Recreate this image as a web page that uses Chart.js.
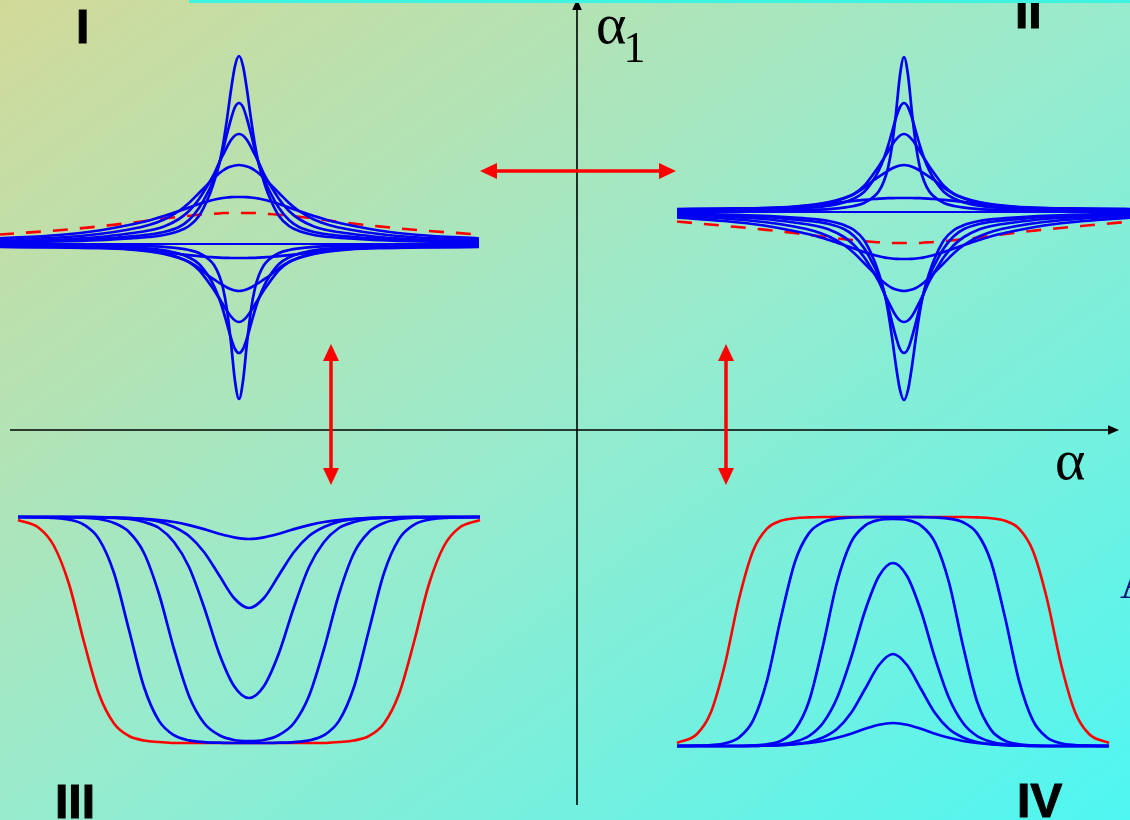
<!DOCTYPE html>
<html>
<head>
<meta charset="utf-8">
<title>Soliton profiles in the four quadrants</title>
<script src="https://cdn.jsdelivr.net/npm/chart.js@4.4.1/dist/chart.umd.min.js"></script>
<style>
  html, body { margin: 0; padding: 0; }
  #wrap {
    position: relative;
    width: 1130px;
    height: 820px;
    overflow: hidden;
    background: linear-gradient(to bottom right, #d2d998 0%, #98ebcd 50%, #4ef6f2 100%);
  }
  #wrap canvas { position: absolute; left: 0; top: 0; }
  #labels { position: absolute; left: 0; top: 0; }
  #topbar { position: absolute; left: 189px; top: 0; width: 941px; height: 3px; background: #3ff3e1; }
</style>
</head>
<body>
<div id="wrap">
  <canvas id="chart"></canvas>
  <svg id="labels" width="1130" height="820">
    <g font-family="'Liberation Sans', Arial, sans-serif" font-weight="bold" font-size="48" fill="#000" stroke="#000" stroke-width="1">
      <text x="76" y="43">I</text>
      <text x="1015" y="28">II</text>
      <text x="55" y="818">III</text>
      <text x="1017" y="817">IV</text>
    </g>
    <g font-family="'Liberation Serif', 'Times New Roman', serif" fill="#000">
      <text x="596" y="43" font-size="58">α<tspan font-size="44" dx="-3" dy="19">1</tspan></text>
      <text x="1055" y="479" font-size="58">α</text>
    </g>
    <text x="1120" y="598" font-family="'Liberation Serif', serif" font-size="44" fill="#14147a">A</text>
  </svg>
  <div id="topbar"></div>
</div>
<script>
// half profiles, sampled outward from each panel centre (α units)
const offsetsTop = [0, 4, 8, 12, 16, 20, 25, 30, 40, 50, 60, 75, 90, 110, 140, 180, 240];
const offsetsTopII = [0, 4, 8, 12, 16, 20, 25, 30, 40, 50, 60, 75, 90, 110, 140, 180, 227];
const offsetsWell = [0, 15, 30, 45, 60, 75, 90, 105, 120, 135, 150, 165, 180, 195, 210, 231];
const offsetsBump = [0, 14, 28, 42, 56, 70, 84, 98, 112, 126, 140, 154, 168, 182, 196, 216];
const flatOffsets = [0, 240];
const flatOffsetsII = [0, 227];
const flatLine = [0, 0];

// quadrant I (quadrant II shows the same family turned over)
const up1 = [188, 178, 154, 125, 99, 79, 62, 48, 28, 18, 13, 9, 7, 5.5, 3.8, 2.5, 1.5];
const up2 = [141, 137, 125, 110, 94, 80, 65, 54, 36, 24, 17, 12, 9.5, 7.5, 5, 3.3, 2];
const up3 = [110, 108.5, 104, 97, 89, 81, 70, 61, 45, 33, 25, 17.5, 13.5, 10.5, 7, 4.5, 2.8];
const up4 = [79, 78.5, 77.5, 76, 73.5, 70.5, 66, 61, 51, 41, 33, 24.5, 19, 14.5, 10, 6.5, 4];
const up5 = [47, 47, 46.8, 46.5, 46, 45.3, 44.3, 43, 40, 36.5, 33, 28, 23.5, 19, 13.5, 9, 5.5];
const low1 = [-14, -14, -14, -13.9, -13.8, -13.6, -13.3, -13, -12.2, -11.2, -10, -8.2, -6.5, -5, -4, -3.5, -3];
const low2 = [-47, -46.5, -45.3, -43.5, -41.2, -38.7, -35.3, -32, -24, -18, -14, -10, -7.5, -5.5, -4, -3.2, -2.6];
const low3 = [-78, -76.5, -72.5, -67, -60.5, -54, -46, -39, -26, -18, -13.5, -9.2, -6.8, -5, -3.5, -2.7, -2.2];
const low4 = [-109, -105, -94, -80, -66, -54, -42, -33, -20, -13.5, -9.6, -6.3, -4.5, -3.5, -2.6, -2, -1.7];
const low5 = [-155, -137, -99, -66, -44, -31, -21, -15.5, -9, -6, -4.3, -2.9, -2.2, -1.8, -1.4, -1.2, -1];
const redBump = [31, 31, 31, 31, 31, 30.5, 30.3, 30, 29.2, 28.2, 27.2, 25.4, 23.5, 21, 17.6, 13.8, 9.5];

// quadrant III: wells below the top level
const well1 = [-22, -20.4, -16.7, -12.1, -8.1, -5, -3.1, -1.8, -1.1, -0.6, -0.3, 0, 0, 0, 0, 0];
const well2 = [-91, -81, -58, -35, -19, -10, -4.7, -2.2, -1, -0.5, -0.2, 0, 0, 0, 0, 0];
const well3 = [-181, -169, -136, -90, -50, -25, -11, -5, -2, -1, -0.4, 0, 0, 0, 0, 0];
const well4 = [-224, -223, -218, -206, -179, -132, -77, -36, -15, -6, -2, -0.7, -0.3, 0, 0, 0];
const well5 = [-226, -226, -225.7, -225.1, -223.4, -218.2, -203.9, -170, -113, -56, -22.1, -7.8, -2.6, -0.9, -0.3, 0];
const redWell = [-226, -226, -226, -226, -226, -226, -225, -223.5, -219, -206.5, -177, -125, -67, -29, -11, -3];

// quadrant IV: bumps above the bottom level
const bump1 = [23, 21.3, 17.2, 12.3, 8.2, 5, 3, 1.8, 1, 0.5, 0, 0, 0, 0, 0, 0];
const bump2 = [92, 81, 57, 33, 17, 8.5, 4, 1.9, 0.9, 0.4, 0, 0, 0, 0, 0, 0];
const bump3 = [183, 170, 135, 88, 48, 23, 10, 4.3, 1.6, 0.7, 0.3, 0, 0, 0, 0, 0];
const bump4 = [227, 226, 220.4, 203.6, 163.5, 100.3, 44.7, 16.1, 5.3, 1.7, 0.5, 0, 0, 0, 0, 0];
const bump5 = [229, 229, 228.8, 228.5, 227.4, 223.7, 212.9, 184.3, 128.7, 65.4, 25.3, 8.5, 2.7, 0.9, 0.3, 0];
const redPlateau = [229, 229, 229, 229, 229, 229, 228.6, 227.8, 225.2, 217.3, 195, 147, 82, 34, 12, 3];

// where each small diagram sits in the (α, α1) plane
const panelI = { centre: -338, level: 186, sign: 1 };
const panelII = { centre: 327, level: 218, sign: -1 };
const panelIII = { centre: -328, level: -87, sign: 1 };
const panelIV = { centre: 316, level: -316, sign: 1 };

const BLUE = '#0000f2';
const RED = '#ff0000';

function mirrored(offsets, values, panel) {
  const pts = [];
  for (let i = offsets.length - 1; i > 0; i--) {
    pts.push({ x: panel.centre - offsets[i], y: panel.level + panel.sign * values[i] });
  }
  for (let i = 0; i < offsets.length; i++) {
    pts.push({ x: panel.centre + offsets[i], y: panel.level + panel.sign * values[i] });
  }
  return pts;
}

function curve(points, color, width, dash) {
  return {
    data: points,
    borderColor: color,
    borderWidth: width,
    borderDash: dash || [],
    pointRadius: 0,
    fill: false,
    cubicInterpolationMode: 'monotone',
    order: color === RED ? 1 : 0
  };
}

const datasets = [];
[[offsetsTop, flatOffsets, panelI], [offsetsTopII, flatOffsetsII, panelII]].forEach(([offs, flatOffs, panel]) => {
  datasets.push(curve(mirrored(offs, redBump, panel), RED, 2.6, [15, 12]));
  datasets.push(curve(mirrored(flatOffs, flatLine, panel), BLUE, 1.8));
  [up1, up2, up3, up4, up5, low1, low2, low3, low4, low5].forEach(v => {
    datasets.push(curve(mirrored(offs, v, panel), BLUE, 2.7));
  });
});
datasets.push(curve(mirrored(offsetsWell, redWell, panelIII), RED, 2.6));
[well1, well2, well3, well4, well5].forEach(v => datasets.push(curve(mirrored(offsetsWell, v, panelIII), BLUE, 2.7)));
datasets.push(curve(mirrored(offsetsBump, redPlateau, panelIV), RED, 2.6));
[bump1, bump2, bump3, bump4, bump5].forEach(v => datasets.push(curve(mirrored(offsetsBump, v, panelIV), BLUE, 2.7)));

// axes (tail -> tip) and the red double arrows, in data units
const axisLines = [[-567, 0, 542, 0], [0, -375, 0, 431]];
const redArrows = [[-97, 259, 99, 259], [-246, 86, -246, -55], [149, 86, 149, -55]];

function head(ctx, x1, y1, x2, y2, len, half) {
  const a = Math.atan2(y2 - y1, x2 - x1);
  ctx.beginPath();
  ctx.moveTo(x2, y2);
  ctx.lineTo(x2 - len * Math.cos(a) + half * Math.sin(a), y2 - len * Math.sin(a) - half * Math.cos(a));
  ctx.lineTo(x2 - len * Math.cos(a) - half * Math.sin(a), y2 - len * Math.sin(a) + half * Math.cos(a));
  ctx.closePath();
  ctx.fill();
}

const decor = {
  id: 'decor',
  beforeDatasetsDraw(chart) {
    const { ctx, scales: { x, y } } = chart;
    ctx.save();
    ctx.strokeStyle = '#000';
    ctx.fillStyle = '#000';
    ctx.lineWidth = 1.6;
    axisLines.forEach(([a1, b1, a2, b2]) => {
      const px1 = x.getPixelForValue(a1), py1 = y.getPixelForValue(b1);
      const px2 = x.getPixelForValue(a2), py2 = y.getPixelForValue(b2);
      const ang = Math.atan2(py2 - py1, px2 - px1);
      ctx.beginPath();
      ctx.moveTo(px1, py1);
      ctx.lineTo(px2 - 9 * Math.cos(ang), py2 - 9 * Math.sin(ang));
      ctx.stroke();
      head(ctx, px1, py1, px2, py2, 11, 4.8);
    });
    ctx.strokeStyle = RED;
    ctx.fillStyle = RED;
    ctx.lineWidth = 3.5;
    redArrows.forEach(([a1, b1, a2, b2]) => {
      const px1 = x.getPixelForValue(a1), py1 = y.getPixelForValue(b1);
      const px2 = x.getPixelForValue(a2), py2 = y.getPixelForValue(b2);
      const ang = Math.atan2(py2 - py1, px2 - px1);
      ctx.beginPath();
      ctx.moveTo(px1 + 14 * Math.cos(ang), py1 + 14 * Math.sin(ang));
      ctx.lineTo(px2 - 14 * Math.cos(ang), py2 - 14 * Math.sin(ang));
      ctx.stroke();
      head(ctx, px1, py1, px2, py2, 17, 8);
      head(ctx, px2, py2, px1, py1, 17, 8);
    });
    ctx.restore();
  }
};

const ctx = document.getElementById('chart').getContext('2d');
const chart = new Chart(ctx, {
  type: 'line',
  data: { datasets: datasets },
  options: {
    responsive: true,
    maintainAspectRatio: false,
    animation: false,
    devicePixelRatio: 1,
    events: [],
    layout: { padding: 0 },
    plugins: {
      legend: { display: false },
      tooltip: { enabled: false }
    },
    scales: {
      x: { type: 'linear', min: -577, max: 553, display: false },
      y: { type: 'linear', min: -390, max: 430, display: false }
    }
  },
  plugins: [decor]
});
</script>
</body>
</html>
